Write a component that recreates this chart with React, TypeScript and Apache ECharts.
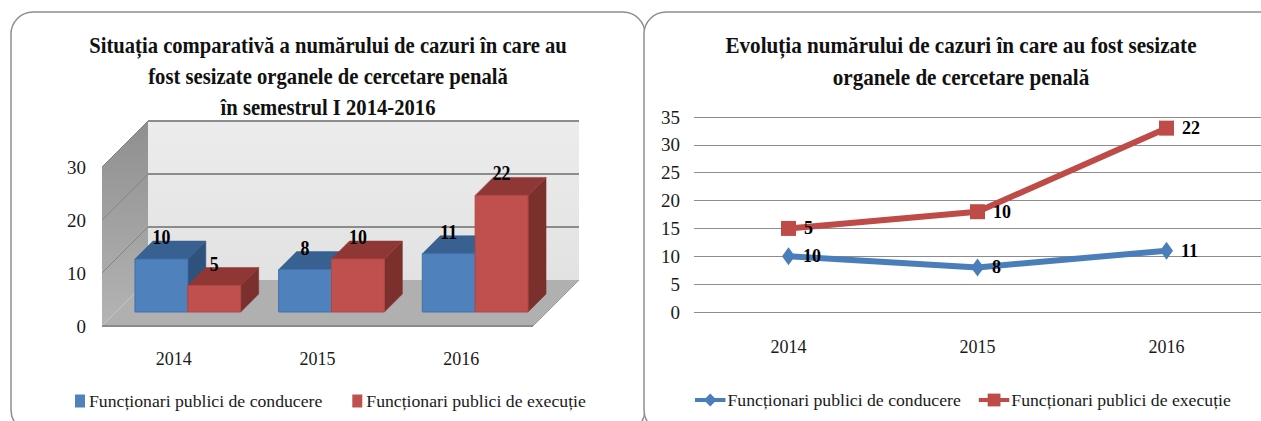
import React, { useEffect, useRef } from "react";
import * as echarts from "echarts";

const categories = ["2014", "2015", "2016"];
const seriesNames = ["Funcționari publici de conducere", "Funcționari publici de execuție"];
const conducere = [10, 8, 11];
const executie = [5, 10, 22];
const barTicks = [10, 20, 30];
const leftTitle = "Situația comparativă a numărului de cazuri în care au\nfost sesizate organele de cercetare penală\nîn semestrul I 2014-2016";
const rightTitle = "Evoluția numărului de cazuri în care au fost sesizate\norganele de cercetare penală";

const FONT = '"Liberation Serif", "Times New Roman", serif';
const BLUE = "#4F81BD";
const RED = "#C0504D";
const BLUE_LINE = "#4A7EBB";
const RED_LINE = "#BE4B48";
const TEXT = "#1a1a1a";

const panel = (x: number, w: number) => ({
  type: "rect",
  silent: true,
  z: -10,
  shape: { x, y: 12, width: w, height: 420, r: 22 },
  style: { fill: "#fff", stroke: "#8f8f8f", lineWidth: 1.5 },
});

const titleText = (text: string, x: number, y: number, scaleX: number, lineHeight: number) => ({
  type: "text",
  silent: true,
  x,
  y,
  scaleX,
  style: {
    text,
    x: 0,
    y: 0,
    align: "center",
    verticalAlign: "top",
    font: `bold 24px ${FONT}`,
    lineHeight,
    fill: "#111",
  },
});

const wallRender = (params: any, api: any) => {
  const depth = 46;
  const cs = params.coordSys;
  const l = cs.x;
  const r = cs.x + cs.width;
  const y0 = api.coord([0, 0])[1];
  const yTop = api.coord([0, 30])[1];
  const poly = (points: number[][], fill: any, stroke = "none", lineWidth = 0) => ({
    type: "polygon",
    shape: { points },
    style: { fill, stroke, lineWidth },
  });
  const line = (x1: number, y1: number, x2: number, y2: number, stroke: string, lineWidth: number) => ({
    type: "line",
    shape: { x1, y1, x2, y2 },
    style: { stroke, lineWidth },
  });
  const children: any[] = [
    poly(
      [[l + depth, yTop - depth], [r + depth, yTop - depth], [r + depth, y0 - depth], [l + depth, y0 - depth]],
      new echarts.graphic.LinearGradient(0, 0, 0, 1, [
        { offset: 0, color: "#ececec" },
        { offset: 1, color: "#e2e2e2" },
      ])
    ),
    poly(
      [[l, yTop], [l + depth, yTop - depth], [l + depth, y0 - depth], [l, y0]],
      new echarts.graphic.LinearGradient(0, 0, 0, 1, [
        { offset: 0, color: "#8f8f8f" },
        { offset: 1, color: "#b4b4b4" },
      ])
    ),
    poly([[l, y0], [l + depth, y0 - depth], [r + depth, y0 - depth], [r, y0]], "#b0b0b0"),
    line(l, y0, r, y0, "#8a8a8a", 2),
    line(r, y0, r + depth, y0 - depth, "#9a9a9a", 1),
  ];
  barTicks.forEach((t) => {
    const y = api.coord([0, t])[1];
    children.push(line(l + depth, y - depth, r + depth, y - depth, "#8c8c8c", 2));
    children.push(line(l, y, l + depth, y - depth, "#858585", 1));
  });
  return { type: "group", children };
};

const barRender = (front: string, top: string, side: string, border: string, isSecond: boolean) => (_p: any, api: any) => {
  const idx = api.value(0);
  const val = api.value(1);
  const base = api.coord([idx, 0]);
  const band = api.size([1, 0])[0];
  const h = api.size([0, val])[1];
  const w = band * 0.368;
  const shift = 14;
  const d = 18;
  const x0 = base[0] + shift + (isSecond ? 0 : -w);
  const x1 = x0 + w;
  const yb = base[1] - shift;
  const yt = yb - h;
  const poly = (points: number[][], fill: string) => ({
    type: "polygon",
    shape: { points },
    style: { fill, stroke: fill, lineWidth: 0.5 },
  });
  return {
    type: "group",
    children: [
      poly([[x1, yb], [x1 + d, yb - d], [x1 + d, yt - d], [x1, yt]], side),
      poly([[x0, yt], [x0 + d, yt - d], [x1 + d, yt - d], [x1, yt]], top),
      {
        type: "rect",
        shape: { x: x0, y: yt, width: w, height: h },
        style: { fill: front, stroke: border, lineWidth: 1 },
      },
      {
        type: "text",
        z2: 50,
        x: (x0 + x1) / 2,
        y: yt - 22,
        scaleX: 0.85,
        style: {
          text: String(val),
          x: 0,
          y: 0,
          align: "center",
          verticalAlign: "middle",
          font: `bold 21px ${FONT}`,
          fill: "#000",
        },
      },
    ],
  };
};

const leftOption = () => ({
  animation: false,
  textStyle: { fontFamily: FONT },
  graphic: [panel(11, 634), titleText(leftTitle, 328, 29.5, 0.86, 31)],
  legend: {
    left: 75,
    top: 392,
    padding: 0,
    itemWidth: 10,
    itemHeight: 13,
    itemGap: 30,
    icon: "rect",
    textStyle: { fontFamily: FONT, fontSize: 17.7, color: TEXT, padding: [0, 0, 0, -1] },
    data: seriesNames,
  },
  grid: { left: 102, top: 167, width: 431, height: 159 },
  xAxis: {
    type: "category",
    data: categories,
    axisLine: { show: false },
    axisTick: { show: false },
    axisLabel: { fontFamily: FONT, fontSize: 18, color: TEXT, margin: 24 },
  },
  yAxis: {
    type: "value",
    min: 0,
    max: 30,
    interval: 10,
    axisLine: { show: false },
    axisTick: { show: false },
    splitLine: { show: false },
    axisLabel: { fontFamily: FONT, fontSize: 19, color: TEXT, margin: 16 },
  },
  series: [
    {
      type: "custom",
      name: "walls",
      silent: true,
      renderItem: wallRender,
      data: [[0, 0]],
      encode: { x: 0, y: 1 },
    },
    {
      type: "custom",
      name: seriesNames[0],
      itemStyle: { color: BLUE },
      renderItem: barRender(BLUE, "#386091", "#2F527C", "#3F72AC", false),
      data: conducere.map((v, i) => [i, v]),
      encode: { x: 0, y: 1 },
    },
    {
      type: "custom",
      name: seriesNames[1],
      itemStyle: { color: RED },
      renderItem: barRender(RED, "#8F3734", "#7B302E", "#B04744", true),
      data: executie.map((v, i) => [i, v]),
      encode: { x: 0, y: 1 },
    },
  ],
});

const rightOption = () => {
  const label = {
    show: true,
    position: "right",
    distance: 8,
    fontFamily: FONT,
    fontWeight: "bold",
    fontSize: 18,
    color: "#000",
  };
  return {
    animation: false,
    textStyle: { fontFamily: FONT },
    graphic: [panel(4, 660), titleText(rightTitle, 321, 29.5, 0.88, 31.5)],
    legend: {
      left: 53,
      top: 391,
      padding: 0,
      itemWidth: 30.5,
      itemHeight: 16,
      itemGap: 16,
      lineStyle: { width: 4 },
      textStyle: { fontFamily: FONT, fontSize: 17.7, color: TEXT, padding: [0, 0, 0, -3] },
      data: seriesNames,
    },
    grid: { left: 54, top: 117, width: 567, height: 195 },
    xAxis: {
      type: "category",
      data: categories,
      axisLine: { show: false },
      axisTick: { show: false },
      axisLabel: { fontFamily: FONT, fontSize: 18, color: TEXT, margin: 26 },
    },
    yAxis: {
      type: "value",
      min: 0,
      max: 35,
      interval: 5,
      axisLine: { show: false },
      axisTick: { show: false },
      splitLine: { lineStyle: { color: "#8c8c8c", width: 1 } },
      axisLabel: { fontFamily: FONT, fontSize: 19, color: TEXT, margin: 14 },
    },
    series: [
      {
        type: "line",
        name: seriesNames[0],
        stack: "total",
        data: conducere,
        symbol: "diamond",
        symbolSize: [13, 18],
        lineStyle: { color: BLUE_LINE, width: 6 },
        itemStyle: { color: BLUE_LINE },
        label,
      },
      {
        type: "line",
        name: seriesNames[1],
        stack: "total",
        data: executie,
        symbol: "rect",
        symbolSize: [15, 15],
        lineStyle: { color: RED_LINE, width: 6 },
        itemStyle: { color: RED_LINE },
        label,
      },
    ],
  };
};

export default function App() {
  const leftRef = useRef<HTMLDivElement>(null);
  const rightRef = useRef<HTMLDivElement>(null);
  useEffect(() => {
    const a = echarts.init(leftRef.current!, undefined, { renderer: "svg" });
    const b = echarts.init(rightRef.current!, undefined, { renderer: "svg" });
    a.setOption(leftOption() as any);
    b.setOption(rightOption() as any);
    return () => {
      a.dispose();
      b.dispose();
    };
  }, []);
  return (
    <div style={{ position: "absolute", left: 0, top: 0, width: 1261, height: 421, overflow: "hidden", background: "#fff" }}>
      <div ref={leftRef} style={{ position: "absolute", left: 0, top: 0, width: 648, height: 421 }} />
      <div ref={rightRef} style={{ position: "absolute", left: 640, top: 0, width: 621, height: 421 }} />
    </div>
  );
}
